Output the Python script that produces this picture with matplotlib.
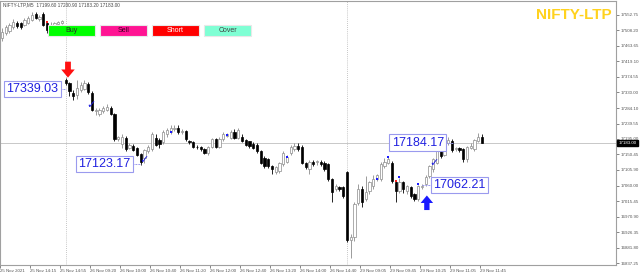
import matplotlib
matplotlib.use("Agg")
import matplotlib.pyplot as plt
import matplotlib.transforms as mtransforms
from matplotlib.patches import Rectangle

# NIFTY-LTP M5 candles, 25-29 Nov 2021
opens = [17487, 17501, 17507, 17518, 17530, 17530, 17524, 17530, 17538, 17556,
         17540, 17555, 17530, 17515, 17524, 17528, 17530,
         17366, 17357, 17328, 17323, 17337, 17340, 17355, 17328, 17275, 17268,
         17275, 17280, 17285, 17268, 17195, 17180, 17199, 17170, 17175, 17170,
         17152, 17140, 17159, 17165, 17199, 17193, 17185, 17208, 17214, 17223,
         17228, 17216, 17217, 17188, 17185, 17173, 17171, 17165, 17156, 17171,
         17194, 17173, 17194, 17205, 17199, 17216, 17199, 17202, 17193, 17188,
         17180, 17178, 17159, 17140, 17136, 17116, 17099, 17102, 17122, 17130,
         17156, 17165, 17176, 17173, 17127, 17107, 17130, 17128, 17130, 17127,
         17122, 17079, 17050, 17056, 17056,
         17099, 16903, 16912, 17010, 17050, 17021, 17044, 17060, 17080, 17079,
         17116, 17127, 17127, 17070, 17044, 17070, 17044, 17056, 17035, 17021,
         17056, 17064, 17087, 17107, 17127, 17173, 17150, 17182, 17190, 17165,
         17168, 17165, 17136, 17170, 17165, 17190, 17199.6]
highs = [17515, 17524, 17530, 17540, 17535, 17533, 17544, 17550, 17560, 17562,
         17552, 17562, 17535, 17532, 17533, 17536, 17538,
         17370, 17360, 17335, 17366, 17358, 17365, 17360, 17332, 17285, 17283,
         17290, 17295, 17290, 17270, 17205, 17208, 17205, 17183, 17180, 17173,
         17155, 17166, 17178, 17215, 17210, 17197, 17220, 17228, 17234, 17236,
         17234, 17224, 17222, 17193, 17190, 17177, 17175, 17168, 17176, 17198,
         17198, 17200, 17214, 17212, 17220, 17225, 17228, 17210, 17196, 17190,
         17185, 17182, 17162, 17145, 17140, 17120, 17118, 17130, 17160, 17148,
         17178, 17182, 17182, 17178, 17130, 17133, 17135, 17135, 17134, 17132,
         17127, 17082, 17066, 17060, 17060,
         17102, 16920, 17012, 17065, 17060, 17087, 17075, 17090, 17095, 17130,
         17140, 17145, 17132, 17075, 17082, 17075, 17062, 17060, 17040, 17062,
         17065, 17090, 17120, 17140, 17170, 17178, 17198, 17200, 17195, 17172,
         17172, 17170, 17176, 17182, 17196, 17212, 17210]
lows = [17478, 17495, 17500, 17512, 17515, 17512, 17520, 17526, 17535, 17540,
        17535, 17520, 17500, 17510, 17520, 17524, 17526,
        17350, 17320, 17308, 17310, 17330, 17335, 17325, 17275, 17265, 17260,
        17270, 17275, 17265, 17190, 17188, 17170, 17160, 17165, 17160, 17145,
        17120, 17125, 17155, 17160, 17175, 17170, 17180, 17202, 17208, 17218,
        17210, 17210, 17190, 17180, 17170, 17167, 17160, 17152, 17150, 17168,
        17170, 17170, 17190, 17200, 17195, 17195, 17195, 17185, 17176, 17170,
        17166, 17155, 17122, 17110, 17110, 17093, 17095, 17098, 17118, 17125,
        17150, 17160, 17160, 17124, 17108, 17093, 17118, 17120, 17118, 17102,
        17075, 17012, 17045, 17045, 17025,
        16897, 16851, 16900, 17005, 17000, 17015, 17035, 17050, 17075, 17075,
        17112, 17122, 17068, 17012, 17040, 17040, 17035, 17025, 17015, 17015,
        17050, 17060, 17082, 17100, 17122, 17140, 17145, 17178, 17158, 17160,
        17158, 17130, 17130, 17165, 17160, 17185, 17183.2]
closes = [17504, 17518, 17524, 17533, 17521, 17518, 17538, 17544, 17553, 17544,
          17547, 17524, 17508, 17524, 17530, 17532, 17534,
          17356, 17332, 17318, 17343, 17350, 17357, 17331, 17280, 17280, 17278,
          17285, 17287, 17268, 17194, 17200, 17202, 17165, 17178, 17164, 17150,
          17130, 17162, 17173, 17208, 17179, 17180, 17214, 17222, 17228, 17228,
          17214, 17219, 17194, 17185, 17173, 17171, 17165, 17156, 17173, 17194,
          17173, 17194, 17208, 17208, 17214, 17199, 17222, 17188, 17179, 17176,
          17170, 17159, 17127, 17116, 17116, 17107, 17113, 17127, 17156, 17142,
          17173, 17176, 17165, 17127, 17113, 17130, 17122, 17131, 17122, 17107,
          17079, 17041, 17060, 17050, 17030,
          16903, 16912, 17007, 17050, 17012, 17041, 17070, 17079, 17090, 17122,
          17130, 17136, 17073, 17044, 17070, 17050, 17058, 17030, 17021, 17058,
          17060, 17084, 17116, 17136, 17165, 17145, 17193, 17193, 17162, 17168,
          17163, 17136, 17173, 17176, 17193, 17202, 17183]

time_labels = ['25 Nov 2021', '25 Nov 14:15', '25 Nov 14:55', '26 Nov 09:20',
               '26 Nov 10:00', '26 Nov 10:40', '26 Nov 11:20', '26 Nov 12:00',
               '26 Nov 12:40', '26 Nov 13:20', '26 Nov 14:00', '26 Nov 14:40',
               '29 Nov 09:05', '29 Nov 09:45', '29 Nov 10:25', '29 Nov 11:05',
               '29 Nov 11:45']
price_ticks = [17552.75, 17508.20, 17463.65, 17419.10, 17374.55, 17330.00,
               17284.10, 17239.55, 17195.00, 17150.45, 17105.90, 17060.00,
               17015.45, 16970.90, 16926.35, 16881.80, 16837.25]

blue_dots = [(45, 17214), (60, 17206), (76, 17142), (100, 17080), (103, 17142),
             (106, 17084), (111, 17064)]
red_dots = [(12, 17532), (105, 17075)]
# boxed trade levels: (text x in bars, value, dashed line from, to)
levels = [(8.1, 17339.03, 15.6, 17.0), (27.3, 17123.17, 34.6, 37.0),
          (122.0, 17062.21, 112.0, 114.6), (110.9, 17184.17, 118.2, 120.5)]
checks = [(23.8, 17292), (37.8, 17135), (115.3, 17126)]
last_price = 17183.00

fig = plt.figure(figsize=(6.4, 2.76), dpi=100)
ax = fig.add_axes([0, 1 - 265 / 276, 616 / 640, 264 / 276])

n = len(closes)
for i in range(n):
    o, h, l, c = opens[i], highs[i], lows[i], closes[i]
    if c >= o:
        face, edge = 'white', '#8c8c8c'
    else:
        face, edge = 'black', 'black'
    ax.vlines(i, l, h, color=edge, lw=0.6, zorder=2)
    ax.bar(i, max(abs(c - o), 0.8), bottom=min(o, c), width=0.62,
           facecolor=face, edgecolor=edge, linewidth=0.5, zorder=3)

ax.axhline(last_price, color='#c8c8c8', lw=0.7, zorder=1)
for d in [17, 92]:
    ax.axvline(d, color='#b4b4b4', lw=0.6, ls=(0, (1, 1.5)), zorder=1)

for x, y in blue_dots:
    ax.plot(x, y, 's', color='#1a1aff', ms=1.8, mew=0, zorder=4)
for x, y in red_dots:
    ax.plot(x, y, 's', color='#ff2020', ms=1.8, mew=0, zorder=4)

for x, v, a, b in levels:
    ax.text(x, v, f'{v:.2f}', ha='center', va='center', fontsize=9,
            family='Liberation Sans', color='#2020e0', zorder=5,
            bbox=dict(boxstyle='square,pad=0.18', fc='white', ec='#9a9aee', lw=0.8))
    ax.plot([a, b], [v, v], color='#9a9aee', lw=0.7, ls=(0, (2, 1)), zorder=4)

for x, y in checks:
    ax.text(x, y, '\u2713', ha='center', va='center', fontsize=8,
            color='#2020e0', zorder=5)

arrow = 'simple,head_length=0.45,head_width=0.75,tail_width=0.32'
ax.annotate('', xy=(17.6, 17372), xytext=(17.6, 17418),
            arrowprops=dict(arrowstyle=arrow, color='#ff1010',
                            mutation_scale=13, lw=0, shrinkA=0, shrinkB=0))
ax.annotate('', xy=(113.3, 17032), xytext=(113.3, 16990),
            arrowprops=dict(arrowstyle=arrow, color='#1a1aff',
                            mutation_scale=12, lw=0, shrinkA=0, shrinkB=0))

ax.set_xlim(-0.53, -0.53 + 616 / 3.75)
ax.set_ylim(16831.5, 17593.0)

ax.set_xticks([8 * k - 0.5 for k in range(len(time_labels))])
ax.set_xticklabels(time_labels, family='Liberation Sans')
for t in ax.get_xticklabels():
    t.set_horizontalalignment('left')
ax.tick_params(axis='x', length=2, width=0.5, pad=1, labelsize=3.2,
               colors='#555555')

ax.yaxis.tick_right()
ax.set_yticks(price_ticks)
ax.set_yticklabels([f'{v:.2f}' for v in price_ticks], family='Liberation Sans')
ax.tick_params(axis='y', length=2, width=0.5, pad=1.5, labelsize=3.2,
               colors='#555555')

for s in ax.spines.values():
    s.set_color('#a0a0a0')
    s.set_linewidth(0.8)

trans = mtransforms.blended_transform_factory(ax.transAxes, ax.transData)
ax.text(1.004, last_price, f'{last_price:.2f}', transform=trans, ha='left',
        va='center', fontsize=3.2, color='white', zorder=6,
        family='Liberation Sans',
        bbox=dict(boxstyle='square,pad=0.25', fc='black', ec='black'))

# trade buttons
buttons = [('Buy', 48, '#00ff00', '#2a2a2a'), ('Sell', 100, '#ff1493', '#3a0020'),
           ('Short', 152, '#ff0000', 'white'), ('Cover', 204, '#7fffd4', '#404040')]
for label, x0, fc, tc in buttons:
    fig.add_artist(Rectangle((x0 / 640, 1 - 36 / 276), 47 / 640, 11 / 276,
                             transform=fig.transFigure, facecolor=fc,
                             edgecolor='#e8e8e8', lw=0.8, zorder=7))
    fig.text((x0 + 23.5) / 640, 1 - 30.5 / 276, label, ha='center', va='center',
             fontsize=5, color=tc, zorder=8, family='Liberation Sans')

fig.text(3 / 640, 1 - 5 / 276, 'NIFTY-LTP,M5  17199.60 17200.90 17183.20 17183.00',
         fontsize=3.4, color='#444444', va='center', family='Liberation Sans')
fig.text(612 / 640, 1 - 15 / 276, 'NIFTY-LTP', ha='right', va='center',
         fontsize=11, fontweight='bold', color='#ffd21f', family='Liberation Sans')

fig.savefig('out.png', dpi=100, facecolor='white')
